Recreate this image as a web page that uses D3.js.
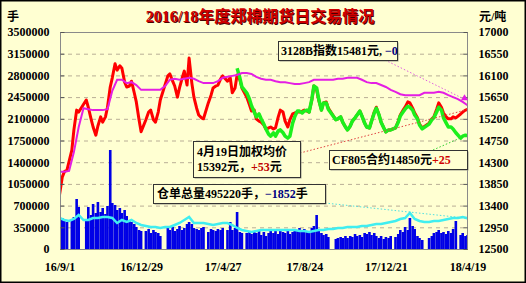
<!DOCTYPE html>
<html>
<head>
<meta charset="utf-8">
<script src="https://cdn.jsdelivr.net/npm/d3@7"></script>
<style>
body{margin:0;background:#fff}
text{font-family:"Liberation Serif","Noto Sans CJK SC",serif;font-weight:bold}
</style>
</head>
<body>
<div id="chart"></div>
<script>
(function(){

var width = 526,
	height = 283,
	left = 60,
	right = 467,
	top = 32,
	bottom = 249;

var parse = d3.timeParse("%Y-%m-%d");
var first_day = parse("2016-09-01"),
	last_day = parse("2018-04-19"),
	green_first = parse("2017-05-18");

// thursdays for the weekly series, thursday + monday for the daily ones
var weeks = d3.timeThursday.range(first_day, d3.timeDay.offset(last_day, 1));
var days = [];
weeks.forEach(function(d, i){
	days.push(d);
	if (i < weeks.length - 1) days.push(d3.timeDay.offset(d, 4));
});

var xTicks = ["2016-09-01","2016-12-29","2017-04-27","2017-08-24","2017-12-21","2018-04-19"];
var leftTicks = [0,350000,700000,1050000,1400000,1750000,2100000,2450000,2800000,3150000,3500000];
var rightTicks = [12500,12950,13400,13850,14300,14750,15200,15650,16100,16550,17000];

// 加权均价 (元/吨), twice a week, null = holiday
var avgPrice = [
	13620,13990,14100,14140,null,14550,14970,15380,15340,null,
	null,15590,15440,15200,15030,14860,15050,15240,15130,15240,
	15440,15860,16050,16340,16210,16300,16250,15960,15860,15880,
	15980,15740,15550,15180,14930,null,15180,15340,15380,15180,
	15130,15340,15590,null,null,16090,16130,15980,15880,15650,
	15840,16050,16190,15900,16460,15940,15650,15420,15280,15220,
	15200,null,15530,15690,15840,15880,15900,16030,16090,null,
	15980,16050,15740,15840,16110,16010,15840,null,15650,15490,
	15360,15380,15200,15150,15130,15070,14990,15010,15030,14990,
	15010,15240,15380,15340,15150,15030,15180,15300,15320,15340,
	15340,15360,15380,15360,15340,15590,15880,15800,15590,15380,
	15530,15550,15420,null,null,15180,15200,15240,15130,15030,
	14970,15050,15150,15220,15280,15360,15260,15110,15030,15010,
	15150,15340,15440,15280,15130,15010,14930,14970,14970,null,
	15010,15150,15280,15380,15440,15550,15530,15420,15320,15220,
	15090,15010,null,null,15110,15200,15240,15400,15530,15440,
	15320,15240,15200,15200,15240,15220,null,15300,15340,15380,
	15392
];

// CF805 合约, from 2017-05-18
var cf805 = [
	16250,16050,15860,null,15740,15610,
	15470,15340,15240,15300,15200,15090,14990,14880,14840,14910,
	14840,14950,14970,14910,14840,14800,14840,15110,15240,15360,
	15360,15320,15360,15380,15340,15610,15880,15840,15610,15380,
	15530,15530,15400,null,null,15180,15200,15240,15130,15030,
	14970,15050,15150,15220,15280,15360,15260,15110,15030,15010,
	15150,15320,15420,15280,15130,15010,14930,14970,14970,null,
	15010,15130,15260,15340,15400,15460,15440,15380,15280,15200,
	15070,14990,null,null,15090,15180,15220,15340,15440,15380,
	15220,15110,15030,15030,14990,14910,null,14800,14840,14860,
	14850
];

// 成交量 (手), twice a week
var volume = [
	580600,500000,467700,435500,null,483900,516100,806500,677400,null,
	null,467700,677400,548400,725800,580600,758100,596800,661300,564500,
	693500,1596800,741900,709700,629000,661300,580600,629000,532300,467700,
	435500,403200,354800,306500,290300,null,290300,322600,258100,306500,
	274200,258100,209700,null,null,338700,306500,354800,290300,322600,
	371000,306500,338700,403200,435500,403200,338700,322600,306500,338700,
	354800,null,274200,322600,306500,290300,322600,306500,338700,null,
	306500,435500,306500,338700,596800,274200,258100,null,258100,274200,
	241900,274200,258100,306500,225800,274200,209700,258100,306500,258100,
	290300,241900,306500,274200,258100,290300,241900,274200,322600,290300,
	338700,274200,322600,290300,258100,338700,371000,548400,322600,258100,
	225800,241900,193500,null,null,161300,177400,193500,177400,209700,
	177400,209700,193500,241900,209700,225800,193500,258100,241900,274200,
	225800,258100,209700,177400,209700,161300,193500,177400,209700,null,
	193500,241900,306500,274200,354800,306500,500000,371000,322600,209700,
	177400,145200,null,null,177400,209700,258100,274200,306500,258100,
	274200,241900,290300,258100,322600,451600,null,225800,258100,209700,
	225800
];

// 3128B 指数 (元/吨), weekly
var index3128 = [
	14100,14100,14120,14510,15030,15420,15400,15380,15380,15380,
	15400,15780,16010,16010,15940,15960,15900,15800,15800,15800,
	15800,15800,15880,16010,16030,16010,16030,16050,16030,15980,
	15940,15940,15940,15980,16050,16070,16090,16110,16150,16150,
	16130,16070,16030,16010,16010,15980,15960,15960,15940,15920,
	15920,15940,15960,16010,16010,16010,16010,16010,16030,16030,
	16050,16050,16050,16010,15960,15940,15940,15900,15860,15800,
	15760,15710,15690,15690,15690,15690,15740,15740,15740,15760,
	15740,15690,15650,15610,15550,15481
];

// 仓单总量 (手), weekly
var receipts = [
	500000,467700,451600,483900,548400,467700,467700,500000,500000,516100,
	516100,500000,419400,467700,435500,467700,419400,387100,371000,354800,
	354800,338700,354800,354800,387100,419400,467700,516100,419400,419400,
	419400,403200,387100,403200,419400,419400,387100,338700,306500,290300,
	274200,290300,306500,306500,306500,306500,306500,306500,306500,306500,
	290300,290300,274200,290300,306500,306500,322600,322600,338700,338700,
	354800,354800,354800,371000,371000,387100,403200,403200,419400,435500,
	451600,483900,500000,580600,483900,451600,435500,435500,451600,451600,
	467700,483900,500000,500000,516100,495220
];

var avgChange = "+53",
	cfChange = "+25",
	indexChange = "−0",
	receiptChange = "−1852";

var svg = d3.select("#chart").append("svg")
	.attr("width", width)
	.attr("height", height);

svg.append("rect")
	.attr("x", 0.75).attr("y", 0.75)
	.attr("width", width - 1.5).attr("height", height - 1.5)
	.style("fill", "#ffffd2")
	.style("stroke", "#000")
	.style("stroke-width", 1.5);

var X = d3.scaleTime().domain([first_day, last_day]).range([59.5, 467.5]);
var YL = d3.scaleLinear().domain([0, 3500000]).range([bottom, top]);
var YR = d3.scaleLinear().domain([12500, 17000]).range([bottom, top]);

svg.append("defs").append("clipPath").attr("id", "plotclip")
	.append("rect").attr("x", left).attr("y", top).attr("width", right - left).attr("height", bottom - top);

// grid
svg.selectAll(".grid").data(leftTicks.slice(1, -1)).enter().append("line")
	.attr("x1", left).attr("x2", right)
	.attr("y1", function(d){ return YL(d) + 0.5; })
	.attr("y2", function(d){ return YL(d) + 0.5; })
	.style("stroke", "#b9ae96")
	.style("stroke-dasharray", "4,4");

var plot = svg.append("g").attr("clip-path", "url(#plotclip)");

var bars = days.map(function(d, i){ return {date: d, v: volume[i]}; })
	.filter(function(d){ return d.v != null; });

plot.selectAll(".bar").data(bars).enter().append("rect")
	.attr("x", function(d){ return X(d.date) - 1.3; })
	.attr("width", 2.6)
	.attr("y", function(d){ return YL(d.v); })
	.attr("height", function(d){ return bottom - YL(d.v); })
	.style("fill", "#0000e6");

function series(dates, values, offset){
	return values.map(function(v, i){ return {date: dates[i + offset], v: v}; })
		.filter(function(d){ return d.v != null; });
}

var lineL = d3.line().x(function(d){ return X(d.date); }).y(function(d){ return YL(d.v); });
var lineR = d3.line().x(function(d){ return X(d.date); }).y(function(d){ return YR(d.v); });

var receiptData = series(weeks, receipts, 0),
	avgData = series(days, avgPrice, 0),
	cfData = series(days, cf805, d3.bisectLeft(days, green_first)),
	indexData = series(weeks, index3128, 0);

plot.append("path").datum(receiptData).attr("d", lineL)
	.style("fill", "none").style("stroke", "#40eef0").style("stroke-width", 2.5);

plot.append("path").datum(avgData).attr("d", lineR)
	.style("fill", "none").style("stroke", "#ff0000").style("stroke-width", 3).style("stroke-linejoin", "round");

plot.append("path").datum(cfData).attr("d", lineR)
	.style("fill", "none").style("stroke", "#1cf01c").style("stroke-width", 3.5).style("stroke-linejoin", "round");

plot.append("path").datum(indexData).attr("d", lineR)
	.style("fill", "none").style("stroke", "#e41ee4").style("stroke-width", 2);

// frame and axes
svg.append("rect")
	.attr("x", left + 0.5).attr("y", top + 0.5)
	.attr("width", right - left).attr("height", bottom - top)
	.style("fill", "none").style("stroke", "#8a8a8a");

function styleAxis(g){
	g.select(".domain").remove();
	g.selectAll(".tick line").style("stroke", "#555");
	g.selectAll("text").style("font-size", "12px").style("fill", "#000");
}

svg.append("g").attr("transform", "translate(" + (left + 0.5) + ",0)")
	.call(d3.axisLeft(YL).tickValues(leftTicks).tickFormat(d3.format("d")).tickSize(-4).tickPadding(11))
	.call(styleAxis);

svg.append("g").attr("transform", "translate(" + (right + 0.5) + ",0)")
	.call(d3.axisRight(YR).tickValues(rightTicks).tickFormat(d3.format("d")).tickSize(-4).tickPadding(11))
	.call(styleAxis);

svg.append("g").attr("transform", "translate(0," + bottom + ")")
	.call(d3.axisBottom(X).tickValues(xTicks.map(parse)).tickFormat(d3.timeFormat("%y/%-m/%-d")).tickSize(0).tickPadding(13))
	.call(styleAxis);

// titles
svg.append("text").attr("x", 261).attr("y", 23).attr("text-anchor", "middle")
	.style("font-size", "16px").style("fill", "#4a0000")
	.text("2016/18年度郑棉期货日交易情况");
svg.append("text").attr("x", 260).attr("y", 22).attr("text-anchor", "middle")
	.style("font-size", "16px").style("fill", "#d00000")
	.text("2016/18年度郑棉期货日交易情况");
svg.append("text").attr("x", 7).attr("y", 21).style("font-size", "12px").text("手");
svg.append("text").attr("x", 479).attr("y", 21).style("font-size", "12px").text("元/吨");

// leader lines to the last values
var lastAvg = avgData[avgData.length - 1],
	lastCf = cfData[cfData.length - 1],
	lastIndex = indexData[indexData.length - 1],
	lastReceipt = receiptData[receiptData.length - 1];

function leader(x0, y0, x1, y1, color){
	svg.append("line")
		.attr("x1", x0).attr("y1", y0).attr("x2", x1).attr("y2", y1)
		.style("stroke", color).style("stroke-width", 1).style("stroke-dasharray", "1.5,2");
}
leader(385, 60, X(lastIndex.date) - 3, YR(lastIndex.v) - 6, "#e060e0");
leader(300, 153, X(lastAvg.date), YR(lastAvg.v), "#e04040");
leader(433, 150, X(lastCf.date) - 2, YR(lastCf.v), "#30d030");
leader(325, 203, X(lastReceipt.date), YL(lastReceipt.v), "#50e0e0");

svg.append("path")
	.attr("d", d3.symbol().type(d3.symbolTriangle).size(22))
	.attr("transform", "translate(" + (X(lastIndex.date) - 3) + "," + (YR(lastIndex.v) - 7) + ")")
	.style("fill", "#e41ee4");

function box(x, y, w, h){
	svg.append("rect").attr("x", x + 1.5).attr("y", y + 1.5).attr("width", w).attr("height", h)
		.style("fill", "#9a9a8a");
	svg.append("rect").attr("x", x + 0.5).attr("y", y + 0.5).attr("width", w).attr("height", h)
		.style("fill", "#ffffd2").style("stroke", "#333").style("stroke-width", 1);
}

function label(x, y, parts){
	var t = svg.append("text").attr("x", x).attr("y", y).style("font-size", "12px");
	parts.forEach(function(p){
		t.append("tspan").style("fill", p[1] || "#000").text(p[0]);
	});
}

box(278, 41, 119, 19);
label(281, 55, [["3128B指数" + lastIndex.v + "元, "], [indexChange, "#000080"]]);

box(193, 141, 107, 36);
label(197, 156, [["4月19日加权均价"]]);
label(197, 171, [[lastAvg.v + "元，"], [avgChange, "#c00000"], ["元"]]);

box(329, 150, 138, 19);
label(332, 164, [["CF805合约" + lastCf.v + "元"], [cfChange, "#d00000"]]);

box(153, 184, 172, 19);
label(157, 198, [["仓单总量" + lastReceipt.v + "手，"], [receiptChange, "#000080"], ["手"]]);

})()
</script>
</body>
</html>
